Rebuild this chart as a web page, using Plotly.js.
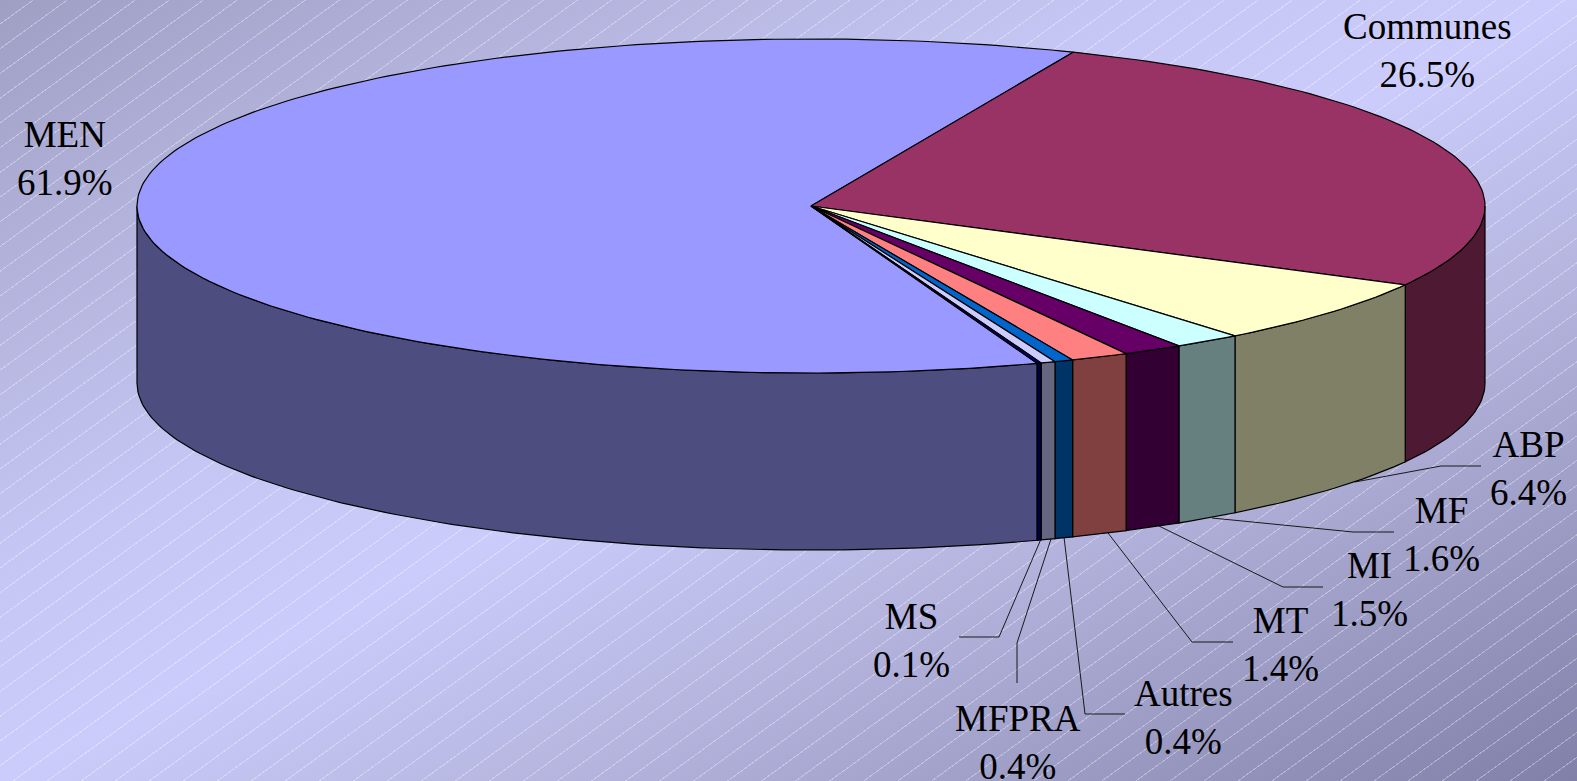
<!DOCTYPE html>
<html>
<head>
<meta charset="utf-8">
<script src="https://cdn.plot.ly/plotly-3.0.1.min.js"></script>
<style>
html,body{margin:0;padding:0;width:1577px;height:781px;overflow:hidden}
body{background:
  repeating-linear-gradient(144deg, rgba(255,255,255,0) 0px, rgba(255,255,255,0) 19px, rgba(255,255,255,.33) 19px, rgba(255,255,255,.33) 20px),
  linear-gradient(to bottom right, #9F9FC4 0%, #C6C6F4 36%, #CCCCFC 50%, #B4B4DE 68%, #8080A8 100%);}
#chart{width:1577px;height:781px}
</style>
</head>
<body>
<div id="chart"></div>
<script>
// Data
const categories = ["MEN","Communes","ABP","MF","MI","MT","Autres","MFPRA","MS"];
const shares     = [61.9, 26.5, 6.36, 1.64, 1.45, 1.4, 0.45, 0.35, 0.1];
const shareText  = ["61.9%","26.5%","6.4%","1.6%","1.5%","1.4%","0.4%","0.4%","0.1%"];

// Styles
const topColors  = ["#9999FF","#993366","#FFFFCC","#CCFFFF","#660066","#FF8080","#0066CC","#CCCCFF","#000080"];
const sideColors = ["#4D4D80","#4D1933","#808066","#668080","#330033","#804040","#003366","#666680","#000040"];

// Projection of the tilted disc
const cx = 811, cy = 206, rx = 674, ry = 167, depth = 177;
const communesStart = 22.9;
const proj = (deg, drop) => {
  const t = deg * Math.PI / 180;
  return [cx + rx * Math.sin(t), cy - ry * Math.cos(t) + (drop || 0)];
};

// Label placement (centres of the two-line blocks)
const labelX = [65, 1427, 1528, 1441, 1369, 1280, 1183, 1018, 911];
const labelY = [158, 50, 468, 534, 589, 644, 717, 742, 640];

// Leader lines
const leaders = {
  ABP:    {x:[1355,1441,1481], y:[482,466,466]},
  MF:     {x:[1212,1353,1394], y:[518,532,532]},
  MI:     {x:[1159,1283,1323], y:[526,587,587]},
  MT:     {x:[1108,1192,1233], y:[533,642,642]},
  Autres: {x:[1064,1085,1125], y:[537,714,714]},
  MFPRA:  {x:[1051,1017,1017], y:[539,643,683]},
  MS:     {x:[1041,999,959],   y:[539,637,637]}
};

// Angular extents from values
const total = shares.reduce((a,b)=>a+b,0);
const spans = shares.map(v => v / total * 360);
let a0 = communesStart - spans[0];
const extents = spans.map(s => { const e = [a0, a0 + s]; a0 += s; return e; });

const arc = (from, to, drop) => {
  const pts = [], n = Math.max(2, Math.ceil(Math.abs(to - from)));
  for (let i = 0; i <= n; i++) pts.push(proj(from + (to - from) * i / n, drop));
  return pts;
};
const poly = (pts, fill) => ({
  type:"scatter", mode:"lines", x:pts.map(p=>p[0]), y:pts.map(p=>p[1]),
  fill:"toself", fillcolor:fill, line:{color:"#000", width:1.2, shape:"linear"},
  hoverinfo:"skip", showlegend:false
});

const traces = [];
// Leader lines below the pie
Object.values(leaders).forEach(l => traces.push({
  type:"scatter", mode:"lines", x:l.x, y:l.y, line:{color:"#1a1a1a", width:1},
  hoverinfo:"skip", showlegend:false
}));
// Front wall: only angles between 90 and 270 degrees face the viewer
extents.forEach((e,i) => {
  for (const k of [-360, 0, 360]) {
    const from = Math.max(e[0] + k, 90), to = Math.min(e[1] + k, 270);
    if (to > from) {
      const pts = arc(from, to, 0).concat(arc(to, from, depth));
      pts.push(pts[0]);
      traces.push(poly(pts, sideColors[i]));
    }
  }
});
// Top face
extents.forEach((e,i) => {
  const pts = [[cx, cy]].concat(arc(e[0], e[1], 0));
  pts.push([cx, cy]);
  traces.push(poly(pts, topColors[i]));
});

const annotations = categories.map((c,i) => ({
  x:labelX[i], y:labelY[i], xref:"x", yref:"y", showarrow:false,
  text:c + "<br>" + shareText[i], align:"center", xanchor:"center", yanchor:"middle",
  font:{family:"Liberation Serif, Times New Roman, serif", size:37, color:"#000"}
}));

Plotly.newPlot("chart", traces, {
  width:1577, height:781, margin:{l:0,r:0,t:0,b:0,pad:0},
  paper_bgcolor:"rgba(0,0,0,0)", plot_bgcolor:"rgba(0,0,0,0)",
  xaxis:{range:[0,1577], visible:false, fixedrange:true},
  yaxis:{range:[781,0], visible:false, fixedrange:true},
  showlegend:false, annotations
}, {displayModeBar:false, staticPlot:true});
</script>
</body>
</html>
